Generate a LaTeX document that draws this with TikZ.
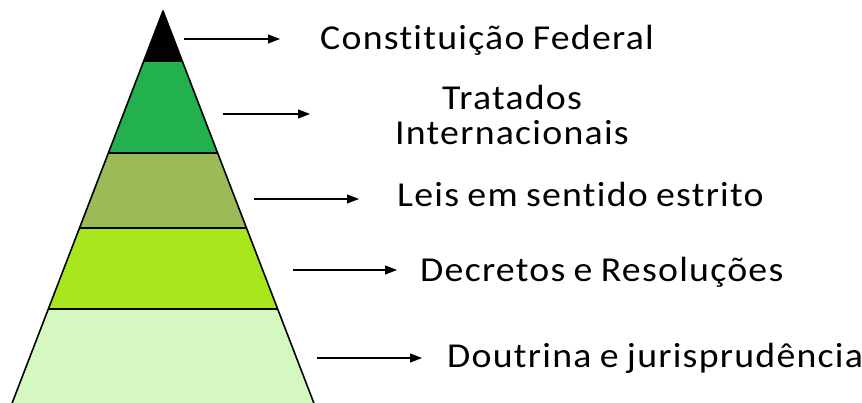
\documentclass[tikz,border=0pt]{standalone}
\usepackage{fontspec}
\setmainfont[Ligatures=CommonOff,FakeStretch=1.08,LetterSpace=3.6,WordSpace=0.85]{Carlito}
\usetikzlibrary{
  arrows.meta,
  calc,
  positioning,
}
\tikzstyle{arrow} = [
  -{Triangle[length=12pt,width=9pt]},
  line width=1.2pt,
  black,
]
\tikzstyle{layer} = [
  draw=black,
  line width=1.6pt,
  line join=round,
]
\tikzstyle{label} = [
  anchor=base west,
  inner sep=0pt,
  font=\fontsize{35}{40}\selectfont,
]
\definecolor{topblack}{RGB}{0, 0, 0}
\definecolor{tratgreen}{RGB}{34, 177, 76}
\definecolor{leisolive}{RGB}{155, 187, 89}
\definecolor{declime}{RGB}{168, 230, 29}
\definecolor{doutlight}{RGB}{213, 248, 192}

\begin{document}
\begin{tikzpicture}[x=1pt,y=-1pt]

      \useasboundingbox (0,0) rectangle (862,403);

      \coordinate (apex) at (163,11);
      \coordinate (bl)   at (11,406);
      \coordinate (br)   at (315,406);

      \coordinate (l1) at ($(apex)!0.127!(bl)$);
      \coordinate (r1) at ($(apex)!0.127!(br)$);
      \coordinate (l2) at ($(apex)!0.359!(bl)$);
      \coordinate (r2) at ($(apex)!0.359!(br)$);
      \coordinate (l3) at ($(apex)!0.549!(bl)$);
      \coordinate (r3) at ($(apex)!0.549!(br)$);
      \coordinate (l4) at ($(apex)!0.754!(bl)$);
      \coordinate (r4) at ($(apex)!0.754!(br)$);

      \fill[doutlight] (l4) -- (r4) -- (br) -- (bl) -- cycle;
      \fill[declime]   (l3) -- (r3) -- (r4) -- (l4) -- cycle;
      \fill[leisolive] (l2) -- (r2) -- (r3) -- (l3) -- cycle;
      \fill[tratgreen] (l1) -- (r1) -- (r2) -- (l2) -- cycle;
      \fill[topblack]  (apex) -- (r1) -- (l1) -- cycle;

      \draw[layer] (bl) -- (apex) -- (br);
      \draw[layer] (l1) -- (r1);
      \draw[layer] (l2) -- (r2);
      \draw[layer] (l3) -- (r3);
      \draw[layer] (l4) -- (r4);

      \node[label] (cf)    at (320,50)  {Constituição Federal};
      \node[label,anchor=base] (trat)  at (512,110) {Tratados};
      \node[label,anchor=base] (inter) at (512,145) {Internacionais};
      \node[label] (leis)  at (397,207) {Leis em sentido estrito};
      \node[label] (dec)   at (420,282) {Decretos e Resoluções};
      \node[label] (dout)  at (447,367) {Doutrina e jurisprudência};

      \coordinate (a1s) at (184,39);  \coordinate (a1e) at (280,39);
      \coordinate (a2s) at (223,114); \coordinate (a2e) at (310,114);
      \coordinate (a3s) at (254,199); \coordinate (a3e) at (359,199);
      \coordinate (a4s) at (293,270); \coordinate (a4e) at (397,270);
      \coordinate (a5s) at (317,358); \coordinate (a5e) at (422,358);

      \draw[arrow] (a1s) -- (a1e);
      \draw[arrow] (a2s) -- (a2e);
      \draw[arrow] (a3s) -- (a3e);
      \draw[arrow] (a4s) -- (a4e);
      \draw[arrow] (a5s) -- (a5e);

\end{tikzpicture}
\end{document}
